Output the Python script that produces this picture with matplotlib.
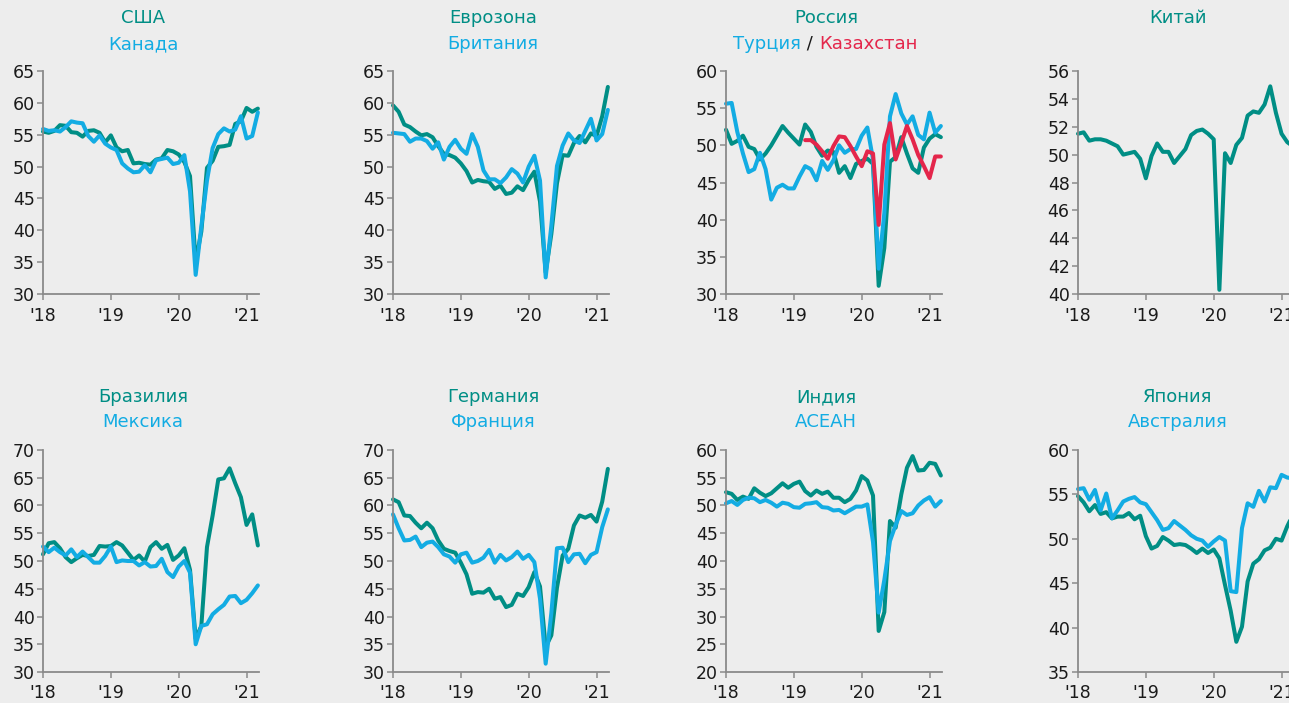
import numpy as np
import matplotlib
matplotlib.use("Agg")
from matplotlib import pyplot as plt

# monthly PMI, Jan 2018 .. Mar 2021
months = np.arange(39)
year_ticks = [0, 12, 24, 36]
year_labels = ["'18", "'19", "'20", "'21"]

usa = [55.5, 55.3, 55.6, 56.5, 56.4, 55.4, 55.3, 54.7, 55.6, 55.7, 55.3, 53.8,
       54.9, 53.0, 52.4, 52.6, 50.5, 50.6, 50.4, 50.3, 51.1, 51.3, 52.6, 52.4,
       51.9, 50.7, 48.5, 35.0, 39.8, 49.8, 50.9, 53.1, 53.2, 53.4, 56.7, 57.1,
       59.2, 58.6, 59.1]
canada = [55.9, 55.6, 55.7, 55.5, 56.2, 57.1, 56.9, 56.8, 54.8, 53.9, 54.9, 53.6,
          53.0, 52.6, 50.5, 49.7, 49.1, 49.2, 50.2, 49.1, 51.0, 51.2, 51.4, 50.4,
          50.6, 51.8, 46.1, 33.0, 40.6, 47.8, 52.9, 55.1, 56.0, 55.5, 55.8, 57.9,
          54.4, 54.8, 58.5]
euro = [59.6, 58.6, 56.6, 56.2, 55.5, 54.9, 55.1, 54.6, 53.2, 52.0, 51.8, 51.4,
        50.5, 49.3, 47.5, 47.9, 47.7, 47.6, 46.5, 47.0, 45.7, 45.9, 46.9, 46.3,
        47.9, 49.2, 44.5, 33.4, 39.4, 47.4, 51.8, 51.7, 53.7, 54.8, 53.8, 55.2,
        54.8, 57.9, 62.5]
uk = [55.3, 55.2, 55.1, 53.9, 54.4, 54.4, 54.0, 52.8, 53.8, 51.1, 53.1, 54.2,
      52.8, 52.0, 55.1, 53.1, 49.4, 48.0, 48.0, 47.4, 48.3, 49.6, 48.9, 47.5,
      50.0, 51.7, 47.8, 32.6, 40.7, 50.1, 53.3, 55.2, 54.1, 53.7, 55.6, 57.5,
      54.1, 55.1, 58.9]
russia = [52.1, 50.2, 50.6, 51.3, 49.8, 49.5, 48.1, 48.9, 50.0, 51.3, 52.6, 51.7,
          50.9, 50.1, 52.8, 51.8, 49.8, 48.6, 49.3, 49.1, 46.3, 47.2, 45.6, 47.5,
          47.9, 48.2, 47.5, 31.1, 36.2, 47.8, 48.4, 51.1, 48.9, 46.9, 46.3, 49.7,
          50.9, 51.5, 51.1]
turkey = [55.6, 55.7, 51.8, 48.9, 46.4, 46.8, 49.0, 46.8, 42.7, 44.3, 44.7, 44.2,
          44.2, 45.8, 47.2, 46.8, 45.3, 47.9, 46.7, 48.0, 50.0, 49.0, 49.5, 49.5,
          51.3, 52.4, 48.1, 33.4, 40.9, 53.9, 56.9, 54.3, 52.8, 53.9, 51.4, 50.8,
          54.4, 51.7, 52.6]
kazakhstan = [np.nan] * 14 + [50.7, 50.7, 50.1, 49.2, 48.2, 49.9, 51.2, 51.1, 49.9,
                              48.5, 47.2, 49.2, 48.9, 39.3, 50.1, 53.0, 48.1, 50.3,
                              52.6, 50.8, 48.7, 47.2, 45.6, 48.5, 48.5]
china = [51.5, 51.6, 51.0, 51.1, 51.1, 51.0, 50.8, 50.6, 50.0, 50.1, 50.2, 49.7,
         48.3, 49.9, 50.8, 50.2, 50.2, 49.4, 49.9, 50.4, 51.4, 51.7, 51.8, 51.5,
         51.1, 40.3, 50.1, 49.4, 50.7, 51.2, 52.8, 53.1, 53.0, 53.6, 54.9, 53.0,
         51.5, 50.9, 50.6]
brazil = [51.2, 53.2, 53.4, 52.3, 50.7, 49.8, 50.5, 51.1, 50.9, 51.1, 52.7, 52.6,
          52.7, 53.4, 52.8, 51.5, 50.2, 51.0, 49.9, 52.5, 53.4, 52.2, 52.9, 50.2,
          51.0, 52.3, 48.4, 36.0, 38.3, 52.5, 58.2, 64.7, 64.9, 66.7, 64.0, 61.5,
          56.5, 58.4, 52.8]
mexico = [52.6, 51.6, 52.4, 51.6, 51.0, 52.1, 50.7, 51.7, 50.7, 49.7, 49.7, 50.9,
          52.6, 49.8, 50.1, 50.0, 50.0, 49.2, 49.8, 49.0, 49.1, 50.4, 48.0, 47.1,
          49.0, 50.0, 47.9, 35.0, 38.3, 38.6, 40.4, 41.3, 42.1, 43.6, 43.7, 42.4,
          43.0, 44.2, 45.6]
germany = [61.1, 60.6, 58.2, 58.1, 56.9, 55.9, 56.9, 55.9, 53.7, 52.2, 51.8, 51.5,
           49.7, 47.6, 44.1, 44.4, 44.3, 45.0, 43.2, 43.5, 41.7, 42.1, 44.1, 43.7,
           45.3, 48.0, 45.4, 34.5, 36.6, 45.2, 51.0, 52.2, 56.4, 58.2, 57.8, 58.3,
           57.1, 60.7, 66.6]
france = [58.4, 55.9, 53.7, 53.8, 54.4, 52.5, 53.3, 53.5, 52.5, 51.2, 50.8, 49.7,
          51.2, 51.5, 49.7, 50.0, 50.6, 52.0, 49.7, 51.1, 50.1, 50.7, 51.7, 50.4,
          51.1, 49.8, 43.2, 31.5, 40.6, 52.3, 52.4, 49.8, 51.2, 51.3, 49.6, 51.1,
          51.6, 56.1, 59.3]
india = [52.4, 52.1, 51.0, 51.6, 51.2, 53.1, 52.3, 51.7, 52.2, 53.1, 54.0, 53.2,
         53.9, 54.3, 52.6, 51.8, 52.7, 52.1, 52.5, 51.4, 51.4, 50.6, 51.2, 52.7,
         55.3, 54.5, 51.8, 27.4, 30.8, 47.2, 46.0, 52.0, 56.8, 58.9, 56.3, 56.4,
         57.7, 57.5, 55.4]
asean = [50.4, 50.8, 50.1, 51.0, 51.4, 51.3, 50.6, 51.0, 50.5, 49.8, 50.5, 50.3,
         49.7, 49.6, 50.3, 50.4, 50.6, 49.7, 49.6, 49.1, 49.2, 48.6, 49.2, 49.8,
         49.8, 50.2, 43.4, 30.7, 36.6, 43.6, 46.5, 49.0, 48.3, 48.6, 50.0, 50.9,
         51.5, 49.8, 50.8]
japan = [54.8, 54.1, 53.1, 53.8, 52.8, 53.0, 52.3, 52.5, 52.5, 52.9, 52.2, 52.6,
         50.3, 48.9, 49.2, 50.2, 49.8, 49.3, 49.4, 49.3, 48.9, 48.4, 48.9, 48.4,
         48.8, 47.8, 44.8, 41.9, 38.4, 40.1, 45.2, 47.2, 47.7, 48.7, 49.0, 50.0,
         49.8, 51.4, 52.7]
australia = [55.6, 55.7, 54.4, 55.5, 53.2, 55.1, 52.3, 53.2, 54.2, 54.5, 54.7, 54.1,
             53.9, 53.0, 52.1, 51.0, 51.2, 52.0, 51.5, 51.0, 50.4, 50.0, 49.8, 49.1,
             49.7, 50.2, 49.8, 44.1, 44.0, 51.2, 54.0, 53.6, 55.4, 54.2, 55.8, 55.7,
             57.2, 56.9, 56.8]

TEAL = "#008e85"
BLUE = "#13ace3"
RED = "#e4264b"
BG = "#ededed"
GRAY = "#8a8a8a"

W, H = 1289, 703
plt.rcParams["font.family"] = ["DejaVu Sans"]

fig = plt.figure(figsize=(W / 100, H / 100), dpi=100)
fig.patch.set_facecolor(BG)

col_left = [43, 393, 726, 1078]
rows = [(71, 294), (450, 672)]
ax_w = 216

panels = [
    # (row, col, title1, title2, series, ylim, ystep)
    (0, 0, "США", "Канада", [(usa, TEAL), (canada, BLUE)], (30, 65), 5),
    (0, 1, "Еврозона", "Британия", [(euro, TEAL), (uk, BLUE)], (30, 65), 5),
    (0, 2, "Россия", None, [(russia, TEAL), (turkey, BLUE), (kazakhstan, RED)], (30, 60), 5),
    (0, 3, "Китай", "", [(china, TEAL)], (40, 56), 2),
    (1, 0, "Бразилия", "Мексика", [(brazil, TEAL), (mexico, BLUE)], (30, 70), 5),
    (1, 1, "Германия", "Франция", [(germany, TEAL), (france, BLUE)], (30, 70), 5),
    (1, 2, "Индия", "АСЕАН", [(india, TEAL), (asean, BLUE)], (20, 60), 5),
    (1, 3, "Япония", "Австралия", [(japan, TEAL), (australia, BLUE)], (35, 60), 5),
]

title_y = [(18, 44), (397, 422)]

for r, c, t1, t2, series, ylim, ystep in panels:
    top, bottom = rows[r]
    left = col_left[c]
    ax = fig.add_axes([left / W, 1 - bottom / H, ax_w / W, (bottom - top) / H])
    ax.set_facecolor(BG)
    for vals, color in series:
        ax.plot(months, vals, color=color, lw=2.9, solid_joinstyle="round",
                solid_capstyle="round", clip_on=False)
    ax.set_xlim(0, 38.2)
    ax.set_ylim(*ylim)
    ax.set_yticks(np.arange(ylim[0], ylim[1] + 0.1, ystep))
    ax.set_xticks(year_ticks)
    ax.set_xticklabels(year_labels)
    for s in ["top", "right"]:
        ax.spines[s].set_visible(False)
    for s in ["left", "bottom"]:
        ax.spines[s].set_color(GRAY)
        ax.spines[s].set_linewidth(1.3)
    ax.tick_params(axis="y", direction="out", length=4, width=1.1, color=GRAY,
                   labelsize=12.5, labelcolor="#1a1a1a", pad=2)
    ax.tick_params(axis="x", direction="out", length=4, width=1.1, color=GRAY,
                   labelsize=12.5, labelcolor="#1a1a1a", pad=5)

    cx = (left + 100) / W
    fig.text(cx, 1 - title_y[r][0] / H, t1, color=TEAL, fontsize=13,
             ha="center", va="center")
    if t2:
        fig.text(cx, 1 - title_y[r][1] / H, t2, color=BLUE, fontsize=13,
                 ha="center", va="center")
    elif t2 is None:
        slash = fig.text((left + 84) / W, 1 - title_y[r][1] / H, " / ",
                         color="#1a1a1a", fontsize=13, ha="center", va="center")
        fig.texts[-1].axes = None
        ax.annotate("Турция", xy=(0, 0), xycoords=slash, ha="right", va="bottom",
                    color=BLUE, fontsize=13, annotation_clip=False)
        ax.annotate("Казахстан", xy=(1, 0), xycoords=slash, ha="left", va="bottom",
                    color=RED, fontsize=13, annotation_clip=False)

fig.savefig("out.png", dpi=100, facecolor=BG)
